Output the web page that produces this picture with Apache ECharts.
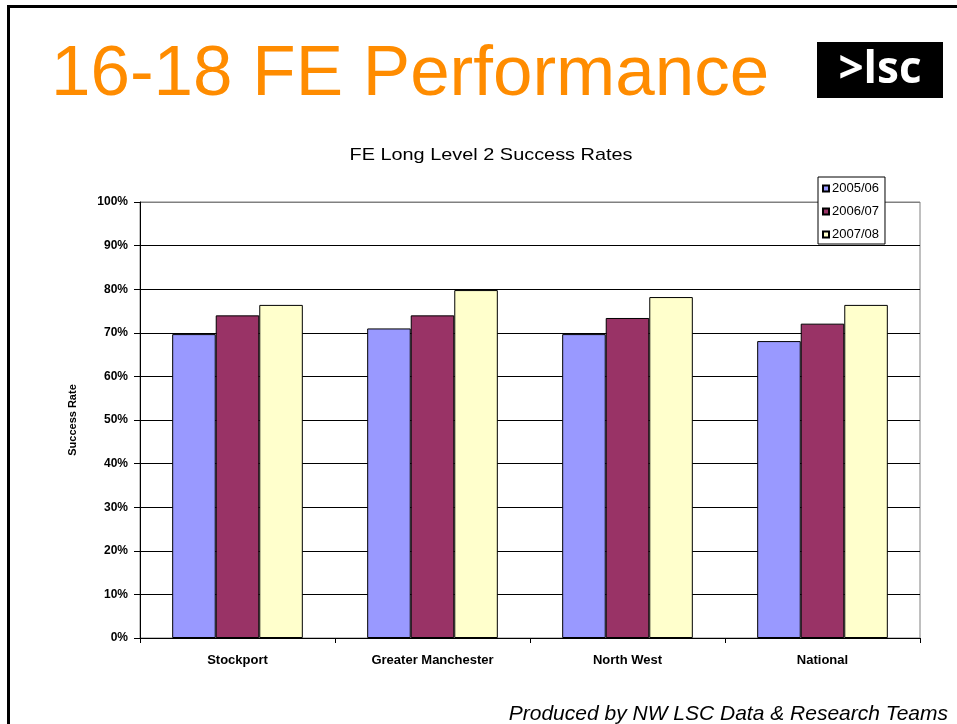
<!DOCTYPE html>
<html>
<head>
<meta charset="utf-8">
<script src="https://cdn.jsdelivr.net/npm/echarts@6/dist/echarts.min.js"></script>
<style>
html,body{margin:0;padding:0;background:#fff;}
#c{width:957px;height:724px;}
</style>
</head>
<body>
<div id="c"></div>
<script>
var categories = ['Stockport', 'Greater Manchester', 'North West', 'National'];
var seriesNames = ['2005/06', '2006/07', '2007/08'];
var values0506 = [69.7, 71.0, 69.7, 68.1];
var values0607 = [74.0, 74.0, 73.4, 72.1];
var values0708 = [76.4, 79.8, 78.2, 76.4];
var seriesColors = ['#9999FF', '#993366', '#FFFFCC'];
var yTickLabels = ['0%', '10%', '20%', '30%', '40%', '50%', '60%', '70%', '80%', '90%', '100%'];

var allValues = [values0506, values0607, values0708];
var chart = echarts.init(document.getElementById('c'), null, {renderer: 'canvas'});
var splitColors = [];
for (var i = 0; i < yTickLabels.length; i++) splitColors.push(i === yTickLabels.length - 1 ? '#808080' : '#000000');

var option = {
  backgroundColor: '#ffffff',
  animation: false,
  textStyle: {fontFamily: 'Liberation Sans, Arial, sans-serif'},
  grid: {left: 140, top: 202, width: 780, height: 436, show: true, borderColor: '#808080', borderWidth: 1, backgroundColor: 'transparent'},
  legend: {
    data: seriesNames,
    orient: 'vertical',
    left: 818, top: 177,
    itemWidth: 6, itemHeight: 6, itemGap: 10,
    padding: [5, 6, 3, 4],
    backgroundColor: '#ffffff',
    borderColor: '#000000', borderWidth: 1,
    icon: 'rect',
    textStyle: {fontSize: 13, color: '#000', fontFamily: 'Liberation Sans Narrow, Liberation Sans, sans-serif', padding: [0, 0, 0, -2]}
  },
  xAxis: {
    type: 'category',
    data: categories,
    axisLine: {lineStyle: {color: '#000', width: 1}},
    axisTick: {show: true, length: 5, lineStyle: {color: '#000'}},
    axisLabel: {fontSize: 13, fontWeight: 'bold', color: '#000', margin: 16, fontFamily: 'Liberation Sans, sans-serif'}
  },
  yAxis: {
    type: 'value',
    min: 0, max: 100, interval: 10,
    name: 'Success Rate',
    nameLocation: 'middle',
    nameGap: 62,
    nameTextStyle: {fontSize: 11, fontWeight: 'bold', color: '#000', fontFamily: 'Liberation Sans Narrow, Liberation Sans, sans-serif'},
    axisLine: {show: true, lineStyle: {color: '#000', width: 1}},
    axisTick: {show: true, inside: false, length: 6, lineStyle: {color: '#000'}},
    axisLabel: {
      fontSize: 12, fontWeight: 'bold', color: '#000', margin: 12,
      fontFamily: 'Liberation Sans, sans-serif',
      formatter: function (v) { return yTickLabels[Math.round(v / 10)]; }
    },
    splitLine: {show: true, lineStyle: {color: splitColors, width: 1}}
  },
  series: seriesNames.map(function (n, i) {
    return {
      name: n,
      type: 'bar',
      data: allValues[i],
      barGap: '0%',
      barCategoryGap: '33%',
      itemStyle: {color: seriesColors[i], borderColor: '#000', borderWidth: 1}
    };
  }),
  graphic: [
    {type: 'rect', shape: {x: 8.5, y: 6.5, width: 1000, height: 800}, style: {fill: 'none', stroke: '#000', lineWidth: 3}, silent: true},
    {type: 'text', x: 51, y: 75, style: {text: '16-18 FE Performance', fontSize: 71, fontFamily: 'Liberation Sans, Arial, sans-serif', fill: '#FF8C00', verticalAlign: 'middle', align: 'left'}},
    {type: 'rect', shape: {x: 817, y: 42, width: 126, height: 56}, style: {fill: '#000'}},
    {type: 'text', x: 880, y: 70, style: {text: '>lsc', fontSize: 44, fontWeight: 'bold', fontFamily: 'Open Sans, sans-serif', fill: '#fff', align: 'center', verticalAlign: 'middle'}},
    {type: 'text', x: 491, y: 155, scaleX: 1.17, style: {text: 'FE Long Level 2 Success Rates', fontSize: 17, fontFamily: 'Liberation Sans, Arial, sans-serif', fill: '#000', align: 'center', verticalAlign: 'middle'}},
    {type: 'text', x: 948, y: 714, style: {text: 'Produced by NW LSC Data & Research Teams', fontSize: 21, fontStyle: 'italic', fontFamily: 'Liberation Sans, Arial, sans-serif', fill: '#000', align: 'right', verticalAlign: 'middle'}}
  ]
};
chart.setOption(option);
</script>
</body>
</html>
